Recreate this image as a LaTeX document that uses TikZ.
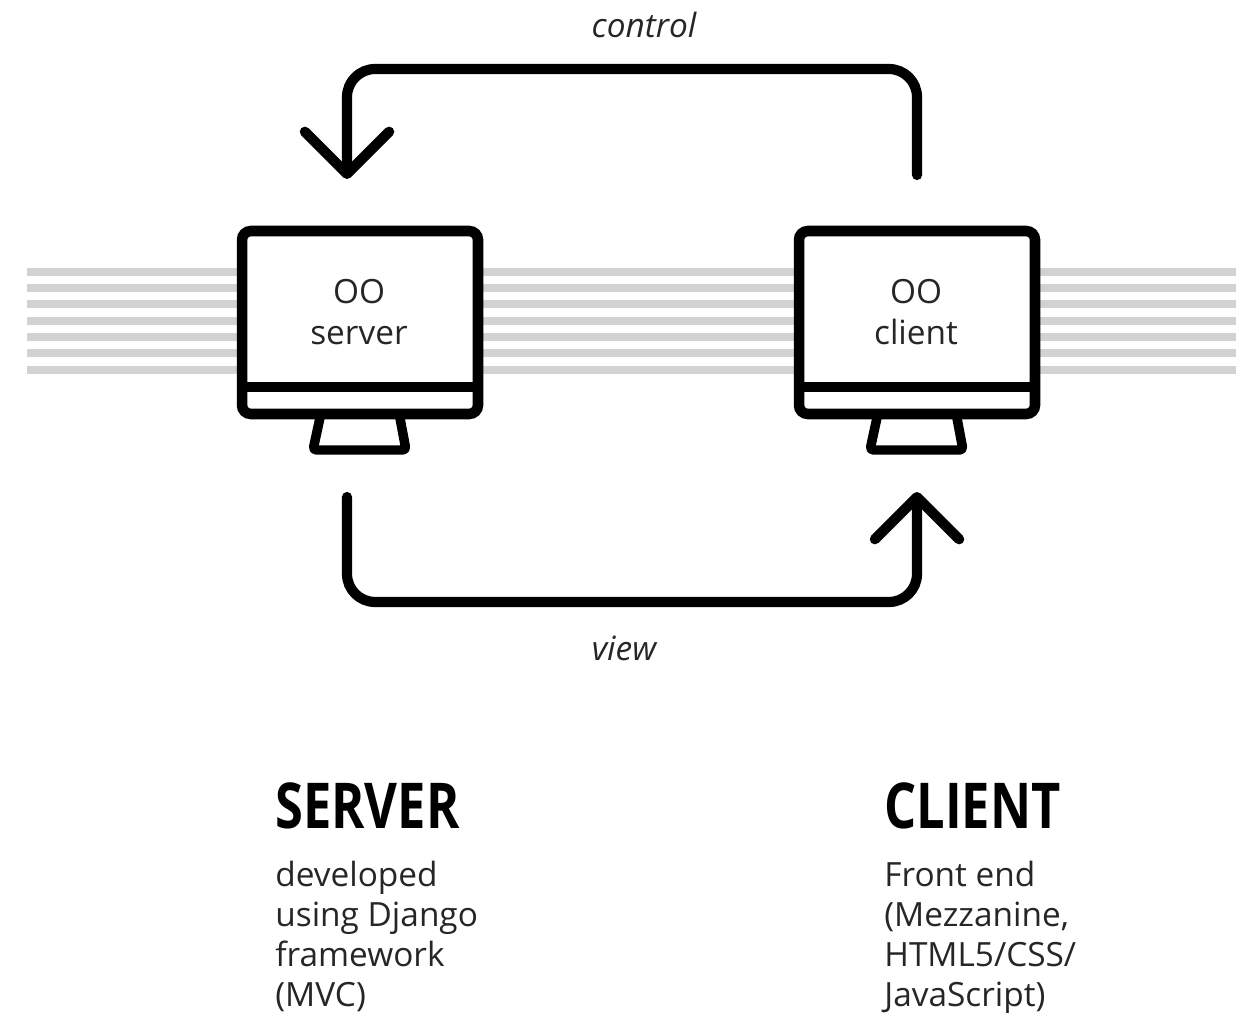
\documentclass[tikz,border=0pt]{standalone}
\usepackage{fontspec}
\setmainfont{Open Sans}
\usepackage{tikz}
\usetikzlibrary{arrows.meta}
\definecolor{stripegray}{HTML}{D2D2D5}
\definecolor{inkgray}{HTML}{262626}

\begin{document}
\begin{tikzpicture}[x=0.02cm,y=0.02cm,
	every node/.style={inner sep=0pt},
	stripe/.style={stripegray,line width=4.2pt},
	monitor/.style={draw=black,fill=white,line width=6pt,rounded corners=5pt,minimum width=4.72cm,minimum height=3.66cm},
	monitorline/.style={black,line width=6pt,line join=round},
	standline/.style={black,line width=5.4pt,line join=round,rounded corners=2pt},
	flowline/.style={black,line width=5.8pt,line cap=round,rounded corners=16pt},
	flowtip/.style={-{Straight Barb[round,length=24pt,width=48pt,line width=5.8pt]}},
	screentext/.style={align=center,text=inkgray,font=\fontsize{19}{23.5}\selectfont},
	flowlabel/.style={text=inkgray,font=\fontsize{19}{22}\selectfont\itshape},
	sidetitle/.style={anchor=base west,text=black,font=\fontsize{36}{40}\selectfont\bfseries},
	sidetext/.style={anchor=north west,align=left,text=inkgray,font=\fontsize{19}{22.77}\selectfont}]
	\useasboundingbox (0,0) rectangle (1236,-1013);
	% stripes behind the screens
	\foreach \y in {272,288,304,321,337,353,370}
		\draw [stripe] (27,-\y) -- (1236,-\y);
	% server
	\draw [standline] (321,-413) -- (313,-450) -- (406,-450) -- (399,-413);
	\node [monitor] (server) at (360,-322.5) {};
	\draw [monitorline] ([yshift=-1.29cm]server.west) -- ([yshift=-1.29cm]server.east);
	\node [screentext] (servertext) at (359,-312) {OO\\server};
	% client
	\draw [standline] (878,-413) -- (870,-450) -- (963,-450) -- (956,-413);
	\node [monitor] (client) at (917,-322.5) {};
	\draw [monitorline] ([yshift=-1.29cm]client.west) -- ([yshift=-1.29cm]client.east);
	\node [screentext] (clienttext) at (916,-312) {OO\\client};
	% arrows
	\coordinate (controlstart) at (917,-175);
	\coordinate (controlend) at (347,-179);
	\coordinate (viewstart) at (347,-497);
	\coordinate (viewend) at (917,-492);
	\draw [flowline,flowtip] (controlstart) -- (917,-69) -- (347,-69) -- (controlend);
	\draw [flowline,flowtip] (viewstart) -- (347,-602) -- (917,-602) -- (viewend);
	\node [flowlabel] (controllabel) at (644,-25) {control};
	\node [flowlabel] (viewlabel) at (624,-648) {view};
	% text columns
	\node [sidetitle] (servertitle) at (275,-828) {\scalebox{0.8}[1]{SERVER}};
	\node [sidetext] (serverinfo) at (275,-861) {developed\\using Django\\framework\\(MVC)};
	\node [sidetitle] (clienttitle) at (884,-828) {\scalebox{0.8}[1]{CLIENT}};
	\node [sidetext] (clientinfo) at (884,-861) {Front end\\(Mezzanine,\\HTML5/CSS/\\JavaScript)};
\end{tikzpicture}
\end{document}
